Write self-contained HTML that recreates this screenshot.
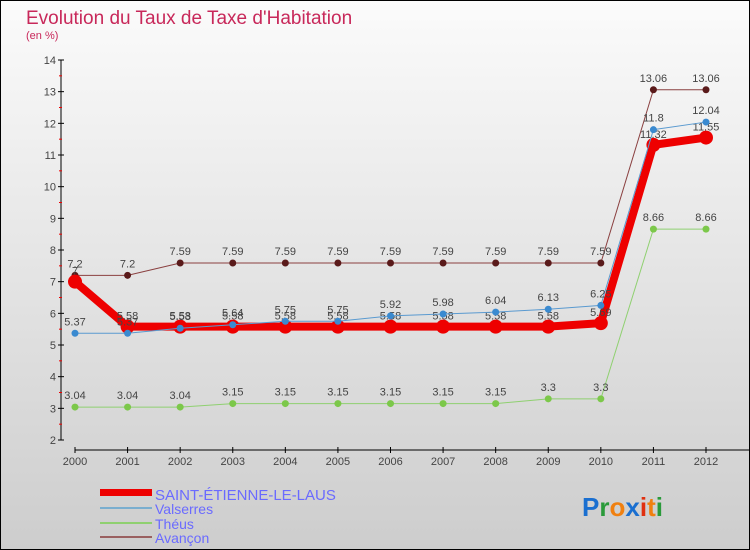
<!DOCTYPE html>
<html><head><meta charset="utf-8"><style>
html,body{margin:0;padding:0}
body{width:750px;height:550px;overflow:hidden;font-family:"Liberation Sans",sans-serif}
#c{position:absolute;left:0;top:0;width:748px;height:548px;border:1px solid #000;background:linear-gradient(#fbfbfb,#cdcdcd)}
</style></head><body>
<div id="c">
<svg id="svg" width="750" height="550" style="position:absolute;left:-1px;top:-1px">
<text x="26" y="24" font-size="19" fill="#c8285a">Evolution du Taux de Taxe d'Habitation</text>
<text x="26" y="39" font-size="11" fill="#c8285a">(en %)</text>
<g id="axes"></g><g id="series"></g>
<g>
<rect x="100" y="489" width="52" height="7" fill="#e00"/>
<line x1="100" y1="508" x2="152" y2="508" stroke="#7aaecf" stroke-width="2"/>
<line x1="100" y1="523" x2="152" y2="523" stroke="#8fd070" stroke-width="2"/>
<line x1="100" y1="537" x2="152" y2="537" stroke="#9a6060" stroke-width="2"/>
<text x="155" y="500" font-size="15" fill="#6a6aff">SAINT-ÉTIENNE-LE-LAUS</text>
<text x="155" y="514" font-size="14" fill="#6a6aff">Valserres</text>
<text x="155" y="529" font-size="14" fill="#6a6aff">Théus</text>
<text x="155" y="543" font-size="14" fill="#6a6aff">Avançon</text>
</g>
<g font-size="26" font-weight="bold">
<text x="582" y="516"><tspan fill="#1a6fd0">P</tspan><tspan fill="#2a9a3a">r</tspan><tspan fill="#f08010">o</tspan><tspan fill="#1a6fd0">x</tspan><tspan fill="#e03010">i</tspan><tspan fill="#f08010">t</tspan><tspan fill="#2a9a3a">i</tspan></text>
</g>
</svg>
</div>
<script>
const years=[2000,2001,2002,2003,2004,2005,2006,2007,2008,2009,2010,2011,2012];
const yTicks=[2,3,4,5,6,7,8,9,10,11,12,13,14];
const stEtienne=[7,5.58,5.58,5.58,5.58,5.58,5.58,5.58,5.58,5.58,5.69,11.32,11.55];
const stEtienneLabels=["7","5.58","5.58","5.58","5.58","5.58","5.58","5.58","5.58","5.58","5.69","11.32","11.55"];
const valserres=[5.37,5.37,5.53,5.64,5.75,5.75,5.92,5.98,6.04,6.13,6.25,11.8,12.04];
const theus=[3.04,3.04,3.04,3.15,3.15,3.15,3.15,3.15,3.15,3.3,3.3,8.66,8.66];
const avancon=[7.2,7.2,7.59,7.59,7.59,7.59,7.59,7.59,7.59,7.59,7.59,13.06,13.06];
const NS="http://www.w3.org/2000/svg";
const X=i=>75+i*(706-75)/12;
const Y=v=>440-(v-2)*(380/12);
function mk(tag,attrs,parent,text){const e=document.createElementNS(NS,tag);for(const k in attrs)e.setAttribute(k,attrs[k]);if(text!==undefined)e.textContent=text;parent.appendChild(e);return e;}
const ax=document.getElementById('axes');
let e=mk('line',{x1:61,y1:60,x2:61,y2:440,stroke:'#000'},ax);


e=mk('line',{x1:75,y1:450,x2:750,y2:450,stroke:'#000'},ax);


yTicks.forEach(v=>{
 mk('line',{x1:58,y1:Y(v),x2:64,y2:Y(v),stroke:'#000'},ax);
 if(v<14) mk('line',{x1:59,y1:Y(v+0.5),x2:62,y2:Y(v+0.5),stroke:'#e00'},ax);
 const t=mk('text',{x:56,y:Y(v)+4,'font-size':11,fill:'#444','text-anchor':'end'},ax,String(v));
 
 
});
years.forEach((yr,i)=>{
 mk('line',{x1:X(i),y1:447,x2:X(i),y2:453,stroke:'#000'},ax);
 const t=mk('text',{x:X(i),y:465,'font-size':11,fill:'#444','text-anchor':'middle'},ax,String(yr));
 
 
});
const sg=document.getElementById('series');
function series(vals,labels,color,dot,w,r,name,labelOff){
 const g=mk('g',{},sg);
 
 
 const l=mk('polyline',{points:vals.map((v,i)=>X(i)+','+Y(v)).join(' '),fill:'none',stroke:color,'stroke-width':w,'stroke-linejoin':'round'},g);
 
 
 vals.forEach((v,i)=>{
  const c=mk('circle',{cx:X(i),cy:Y(v),r:r,fill:dot},g);
  
  
  const t=mk('text',{x:X(i),y:Y(v)+labelOff,'font-size':11,fill:'#444','text-anchor':'middle'},g,labels[i]);
  
  
 });
}
series(theus,theus.map(String),'#8fd070','#7cc84a',1,3.5,'theus',-8);
series(avancon,avancon.map(String),'#8a4040','#5a1a1a',1,3.5,'avancon',-8);
series(stEtienne,stEtienneLabels,'#e00','#e00',8,7,'saint-etienne',-7);
series(valserres,valserres.map(String),'#5a9ad0','#3a8ad0',1,3.5,'valserres',-8);
</script>
</body></html>
